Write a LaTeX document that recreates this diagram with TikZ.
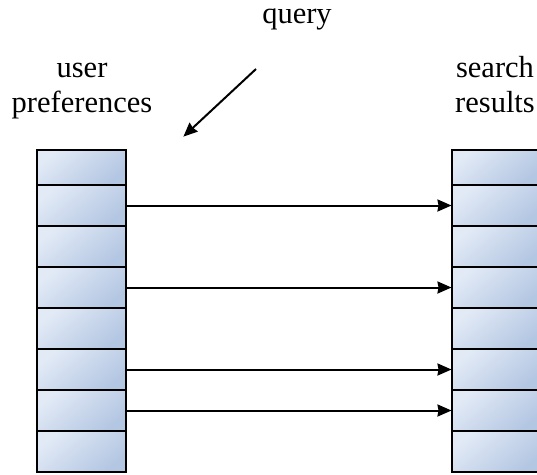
\documentclass[tikz,border=0pt]{standalone}
\usepackage{fontspec}
\setmainfont{Liberation Serif}
\usetikzlibrary{arrows.meta}
\definecolor{cellA}{HTML}{E2EAF6}
\definecolor{cellB}{HTML}{B3C6E2}
\tikzset{
  cell/.style={draw=black, line width=1.6pt, top color=cellA, bottom color=cellB, shading angle=40,
    minimum width=89pt, inner sep=0pt, outer sep=0pt},
  lbl/.style={font=\fontsize{30.5}{36}\selectfont, anchor=base, inner sep=0pt},
  conn/.style={line width=2pt, -{Stealth[length=14pt,width=12pt,inset=1pt]}, shorten >=0.5pt}
}
\begin{document}
\begin{tikzpicture}[x=1pt,y=-1pt]
\useasboundingbox (0,0) rectangle (537,474);
\clip (0,0) rectangle (537,474);
% left stack
\node[cell, minimum height=35pt] (L1) at (81.5,167.5) {};
\foreach \i/\y in {2/205.5,3/246.5,4/287.5,5/328.5,6/369.5,7/410.5,8/451.5}{
  \node[cell, minimum height=41pt] (L\i) at (81.5,\y) {};
}
% right stack
\node[cell, minimum height=35pt] (R1) at (496.5,167.5) {};
\foreach \i/\y in {2/205.5,3/246.5,4/287.5,5/328.5,6/369.5,7/410.5,8/451.5}{
  \node[cell, minimum height=41pt] (R\i) at (496.5,\y) {};
}
% labels
\node[lbl, text height=14pt] (q) at (297,23) {query};
\node[lbl] (u1) at (82,77) {user};
\node[lbl] (u2) at (82,112) {preferences};
\node[lbl] (s1) at (495,77) {search};
\node[lbl] (s2) at (495,112) {results};
% query arrow
\coordinate (qa) at (256,69);
\coordinate (qb) at (183,137);
\draw[conn] (qa) -- (qb);
% connectors
\foreach \i in {2,4,6,7}{
  \draw[conn] (L\i.east) -- (R\i.west);
}
\end{tikzpicture}
\end{document}
